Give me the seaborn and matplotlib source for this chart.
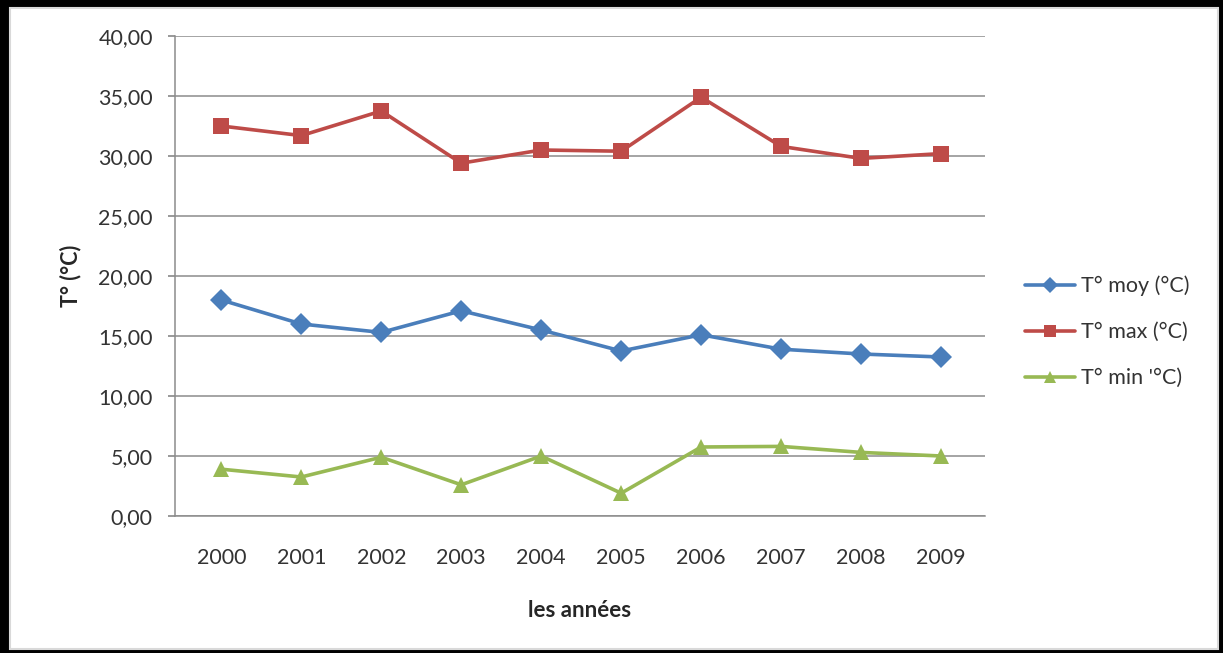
import matplotlib
matplotlib.use("Agg")
import matplotlib.pyplot as plt
from matplotlib.patches import Rectangle
from matplotlib.ticker import FuncFormatter, MultipleLocator
import seaborn as sns
import pandas as pd

years = [2000, 2001, 2002, 2003, 2004, 2005, 2006, 2007, 2008, 2009]
t_moy = [18.0, 16.0, 15.3, 17.1, 15.5, 13.75, 15.1, 13.9, 13.5, 13.25]
t_max = [32.5, 31.7, 33.75, 29.4, 30.5, 30.4, 34.9, 30.8, 29.8, 30.2]
t_min = [3.9, 3.25, 4.9, 2.6, 5.0, 1.9, 5.75, 5.8, 5.3, 5.0]
series_labels = ["T° moy (°C)", "T° max (°C)", "T° min '°C)"]
colors = ["#4A7EBB", "#BE4B48", "#98B954"]
markers = ["D", "s", "^"]

df = pd.DataFrame({
    "pos": list(range(len(years))) * 3,
    "val": t_moy + t_max + t_min,
    "serie": [series_labels[0]] * len(years) + [series_labels[1]] * len(years)
             + [series_labels[2]] * len(years),
})

sns.set_theme(style="white")
plt.rcParams["font.family"] = ["Lato", "DejaVu Sans"]

fig = plt.figure(figsize=(12.23, 6.53), dpi=100, facecolor="black")
W, H = 1223, 653
fig.patches.append(Rectangle((10 / W, 4 / H), (1218 - 10) / W, (645 - 4) / H,
                             transform=fig.transFigure, facecolor="white",
                             edgecolor="#d9d9d9", linewidth=1.5, zorder=-1))

ax = fig.add_axes([175 / W, 1 - 516 / H, (985 - 175) / W, (516 - 36) / H])
ax.set_facecolor("white")

sns.lineplot(data=df, x="pos", y="val", hue="serie", style="serie",
             palette=colors, markers=markers, dashes=False,
             linewidth=2.6, markersize=11, markeredgewidth=0, ax=ax,
             legend=True)

ax.set_xlim(-0.58, 9.55)
ax.set_ylim(0, 40)
ax.yaxis.set_major_locator(MultipleLocator(5))
ax.yaxis.set_major_formatter(FuncFormatter(lambda v, p: f"{v:.2f}".replace(".", ",")))
ax.set_xticks(range(len(years)))
ax.set_xticklabels([str(y) for y in years])
ax.grid(axis="y", color="#8c8c8c", linewidth=1.1)
ax.set_axisbelow(True)
for s in ["top", "right"]:
    ax.spines[s].set_visible(False)
for s in ["left", "bottom"]:
    ax.spines[s].set_color("#8c8c8c")
    ax.spines[s].set_linewidth(1.1)
ax.tick_params(axis="y", left=True, length=5, color="#8c8c8c", labelsize=15.5,
               labelcolor="#333333", pad=11)
ax.tick_params(axis="x", bottom=False, labelsize=15.5, labelcolor="#333333", pad=17)

ax.set_xlabel("les années", fontsize=16, fontweight="bold", labelpad=23)
ax.set_ylabel("T° (°C)", fontsize=15.5, fontweight="bold", labelpad=12)

leg = ax.legend(loc="center left", bbox_to_anchor=(1006 / W, 1 - 332 / H),
                bbox_transform=fig.transFigure, frameon=False, fontsize=15.5,
                handlelength=2.3, labelspacing=1.2, handletextpad=0.3)
for t in leg.get_texts():
    t.set_color("#333333")
for h in leg.legend_handles:
    h.set_markersize(8)

fig.savefig("out.png", dpi=100, facecolor=fig.get_facecolor())
